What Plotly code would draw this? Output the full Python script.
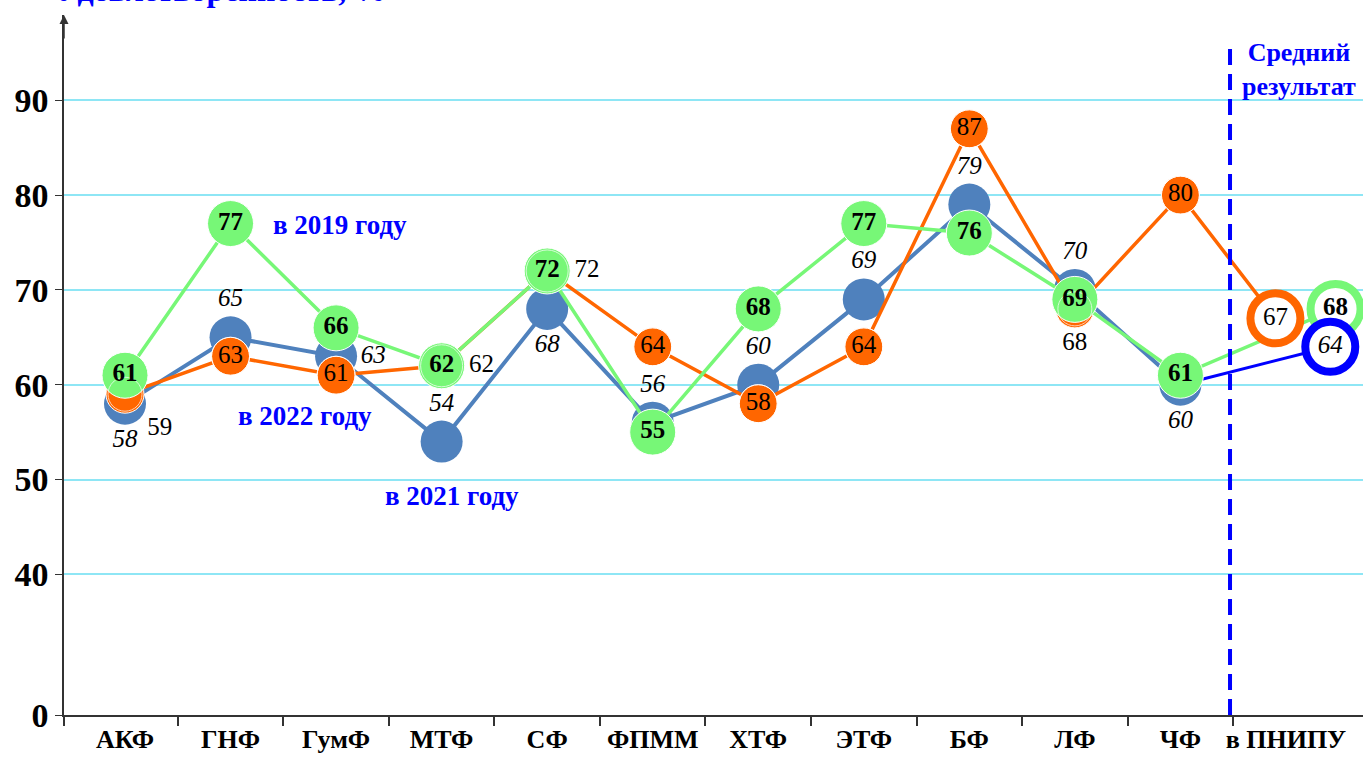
import plotly.graph_objects as go

categories = ["АКФ", "ГНФ", "ГумФ", "МТФ", "СФ", "ФПММ", "ХТФ", "ЭТФ", "БФ", "ЛФ", "ЧФ", "в ПНИПУ"]
y2019 = [61, 77, 66, 62, 72, 55, 68, 77, 76, 69, 61]
y2021 = [58, 65, 63, 54, 68, 56, 60, 69, 79, 70, 60]
y2022 = [59, 63, 61, 62, 72, 64, 58, 64, 87, 68, 80]
avg2019 = 68
avg2021 = 64
avg2022 = 67
ytick_labels = ["0", "40", "50", "60", "70", "80", "90"]
ytick_vals = [25.16, 40, 50, 60, 70, 80, 90]

SERIF = "Liberation Serif"
GREEN = "#77f777"
ORANGE = "#ff6600"
STEEL = "#4f81bd"
BLUE = "#0000ff"
LBL = 25

n = len(y2019)
xs = list(range(n))
x_avg22 = n - 0.1
x_avg19 = n + 0.47
x_avg21 = n + 0.42
x_min = -0.578

fig = go.Figure()

# 2021 series (bottom)
fig.add_trace(go.Scatter(x=xs, y=y2021, mode="lines+markers",
                         line=dict(color=STEEL, width=4),
                         marker=dict(size=42, color=STEEL, opacity=1), hoverinfo="skip"))
fig.add_trace(go.Scatter(x=[xs[-1], x_avg21], y=[y2021[-1], avg2021], mode="lines",
                         line=dict(color=BLUE, width=3), hoverinfo="skip", cliponaxis=False))
# 2022 series
fig.add_trace(go.Scatter(x=xs + [x_avg22], y=y2022 + [avg2022], mode="lines+markers",
                         line=dict(color=ORANGE, width=3.5),
                         marker=dict(size=[38] * n + [0], color=ORANGE, opacity=1), hoverinfo="skip"))
# 2019 series
fig.add_trace(go.Scatter(x=xs + [x_avg19], y=y2019 + [avg2019], mode="lines+markers",
                         line=dict(color=GREEN, width=3.5),
                         marker=dict(size=[46] * n + [0], color=GREEN, opacity=1), hoverinfo="skip"))

# average rings
for xa, ya, col in [(x_avg19, avg2019, GREEN), (x_avg21, avg2021, BLUE), (x_avg22, avg2022, ORANGE)]:
    fig.add_trace(go.Scatter(x=[xa], y=[ya], mode="markers", cliponaxis=False,
                             marker=dict(size=50, color="white", opacity=1, line=dict(color=col, width=8)),
                             hoverinfo="skip"))

# labels on top
pos21 = ["bottom center", "top center", "middle right", "top center", "bottom center",
         "top center", "top center", "top center", "top center", "top center", "bottom center"]
fig.add_trace(go.Scatter(x=xs, y=y2021, mode="markers+text",
                         text=[str(v) for v in y2021], textposition=pos21,
                         textfont=dict(family=SERIF, size=LBL, color="black", style="italic"),
                         marker=dict(size=38, color="rgba(0,0,0,0)"), hoverinfo="skip"))
pos22 = ["bottom right", "middle center", "middle center", "middle right", "middle right",
         "middle center", "middle center", "middle center", "middle center", "bottom center",
         "middle center"]
size22 = [34, 38, 38, 42, 42, 38, 38, 38, 38, 34, 38]
fig.add_trace(go.Scatter(x=xs, y=y2022, mode="markers+text",
                         text=[str(v) for v in y2022], textposition=pos22,
                         textfont=dict(family=SERIF, size=LBL, color="black"),
                         marker=dict(size=size22, color="rgba(0,0,0,0)"), hoverinfo="skip"))
fig.add_trace(go.Scatter(x=xs, y=y2019, mode="text",
                         text=["<b>%d</b>" % v for v in y2019], textposition="middle center",
                         textfont=dict(family=SERIF, size=LBL, color="black"), hoverinfo="skip"))
fig.add_trace(go.Scatter(x=[x_avg19], y=[avg2019], mode="text", text=["<b>%d</b>" % avg2019],
                         textposition="middle center", cliponaxis=False,
                         textfont=dict(family=SERIF, size=LBL, color="black"), hoverinfo="skip"))
fig.add_trace(go.Scatter(x=[x_avg21], y=[avg2021], mode="text", text=[str(avg2021)],
                         textposition="middle center", cliponaxis=False,
                         textfont=dict(family=SERIF, size=LBL, color="black", style="italic"),
                         hoverinfo="skip"))
fig.add_trace(go.Scatter(x=[x_avg22], y=[avg2022], mode="text", text=[str(avg2022)],
                         textposition="middle center", cliponaxis=False,
                         textfont=dict(family=SERIF, size=LBL, color="black"), hoverinfo="skip"))

# dashed separator
fig.add_shape(type="line", xref="x", yref="y", x0=n - 0.53, x1=n - 0.53, y0=25.16, y1=96.3,
              line=dict(color=BLUE, width=4, dash="16px,9px"))

ann_font = dict(family=SERIF, size=27, color=BLUE)
fig.add_annotation(x=2.04, y=76.8, text="<b>в 2019 году</b>", showarrow=False, font=ann_font)
fig.add_annotation(x=1.71, y=56.7, text="<b>в 2022 году</b>", showarrow=False, font=ann_font)
fig.add_annotation(x=3.1, y=48.3, text="<b>в 2021 году</b>", showarrow=False, font=ann_font)
fig.add_annotation(x=11.12, y=93.3, text="<b>Средний<br>результат</b>", showarrow=False,
                   font=dict(family=SERIF, size=26, color=BLUE), align="center")
# y-axis arrow head
fig.add_annotation(xref="paper", yref="paper", x=0, y=1, ax=0, ay=25, showarrow=True,
                   arrowhead=2, arrowsize=1.2, arrowwidth=1.5, arrowcolor="#333333", text="")
# title at top (cut off by the page edge, as in the original)
fig.add_annotation(xref="paper", yref="paper", x=-0.007, xanchor="left", y=1, yshift=5,
                   yanchor="bottom", text="<b>Удовлетворенность, %</b>", showarrow=False,
                   font=dict(family=SERIF, size=32, color=BLUE))

fig.update_layout(
    width=1363, height=760,
    margin=dict(l=64, r=0, t=15, b=45),
    paper_bgcolor="white", plot_bgcolor="white",
    showlegend=False,
    xaxis=dict(range=[x_min, 11.73], tickvals=list(range(len(categories))),
               ticktext=["<b>%s</b>" % c for c in categories],
               tickfont=dict(family=SERIF, size=26, color="black"), automargin=False,
               showgrid=False, zeroline=False, showline=True, linecolor="#333333", linewidth=1.5,
               ticks="", fixedrange=True,
               minor=dict(tickvals=[x_min] + [i + 0.5 for i in range(0, n)], ticks="outside",
                          ticklen=9, tickcolor="#333333", tickwidth=1.5, showgrid=False)),
    yaxis=dict(range=[25.16, 99], tickvals=ytick_vals, ticktext=["<b>%s</b>" % t for t in ytick_labels],
               tickfont=dict(family=SERIF, size=34, color="black"), automargin=False,
               showgrid=True, gridcolor="#8ee6f5", gridwidth=1.5, zeroline=False,
               showline=True, linecolor="#333333", linewidth=1.5,
               ticks="outside", ticklen=7, tickcolor="#333333", fixedrange=True),
)

fig.write_html("out.html", config={"displayModeBar": False},
               post_script="document.body.style.margin='0';")
